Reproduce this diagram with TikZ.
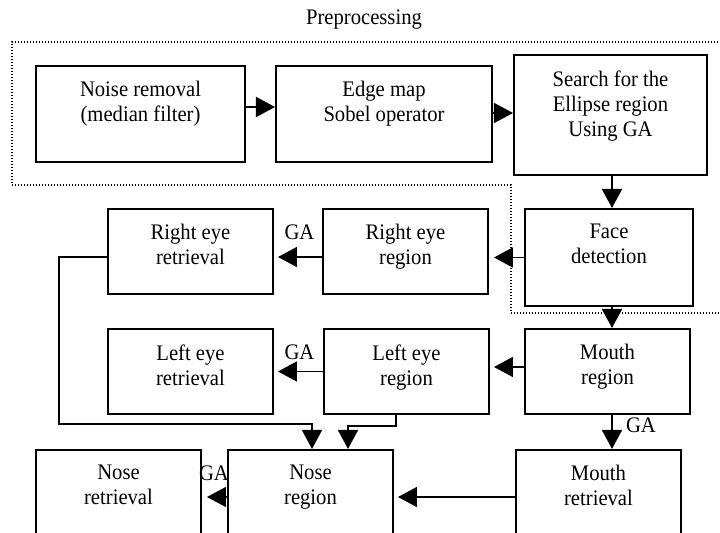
\documentclass[tikz,border=0pt]{standalone}
\usepackage{fontspec}
\setmainfont{Liberation Serif}[FakeStretch=0.93]
\usetikzlibrary{positioning, arrows.meta}

\begin{document}
\begin{tikzpicture}[
    x=0.5pt, y=-0.5pt,
    font=\fontsize{11.1}{12.5}\selectfont,
    box/.style={
        draw,
        line width=1pt,
        minimum width=82.5pt,
        minimum height=42.5pt,
        inner sep=0pt
    },
    txt/.style={
        anchor=north,
        yshift=-8pt,
        align=center,
        inner sep=0pt
    },
    ga/.style={inner sep=0pt},
    arrow/.style={
        -{Triangle[length=9.5pt, width=10pt]},
        line width=0.8pt
    },
    dots/.style={
        line width=0.6pt,
        dash pattern=on 0.5pt off 1pt
    }
]
\clip (0,0) rectangle (720,533);

% Preprocessing frame
\node (pre) at (364,20) [ga] {Preprocessing};
\draw [dots] (730,42) -- (12,42) -- (12,185) -- (511,185) -- (511,313) -- (730,313);

% Top row
\node (noise)  at (140.5,114) [box, minimum width=104.5pt, minimum height=48pt,
    label={[txt]north:{Noise removal\\(median filter)}}] {};
\node (edge)   at (384,114)   [box, minimum width=108pt, minimum height=48pt,
    label={[txt]north:{Edge map\\Sobel operator}}] {};
\node (search) at (610.5,115) [box, minimum width=96.5pt, minimum height=60pt,
    label={[txt]north:{Search for the\\Ellipse region\\Using GA}}] {};

% Second row
\node (face) at (609,257.5)  [box, minimum width=84pt, minimum height=48.5pt,
    label={[txt]north:{Face\\detection}}] {};
\node (rer)  at (405.5,251.5) [box, label={[txt]north:{Right eye\\region}}] {};
\node (rrt)  at (190.5,251.5) [box, label={[txt]north:{Right eye\\retrieval}}] {};

% Third row
\node (mouth) at (607.5,371.5) [box, label={[txt]north:{Mouth\\region}}] {};
\node (ler)   at (406.5,371.5) [box, label={[txt]north:{Left eye\\region}}] {};
\node (lrt)   at (190.5,371.5) [box, label={[txt]north:{Left eye\\retrieval}}] {};

% Bottom row (cut by the page)
\node (mret) at (598.5,510) [box, minimum height=60pt, label={[txt]north:{Mouth\\retrieval}}] {};
\node (nose) at (310.5,510) [box, minimum height=60pt, label={[txt]north:{Nose\\region}}] {};
\node (nret) at (118.5,510) [box, minimum height=60pt, label={[txt]north:{Nose\\retrieval}}] {};

% GA marks
\node (ga1) at (299.5,232) [ga] {GA};
\node (ga2) at (299.5,352) [ga] {GA};
\node (ga3) at (641,425)   [ga] {GA};
\node (ga4) at (214,473)   [ga] {GA};

% Arrows: preprocessing chain
\draw [arrow] ([yshift=3.5pt]noise.east) -- ([yshift=3.5pt]noise.east -| edge.west);
\draw [arrow] ([yshift=0.5pt]edge.east) -- ([yshift=0.5pt]edge.east -| search.west);
\draw [arrow] ([xshift=0.75pt]search.south) -- ([xshift=0.75pt]search.south |- face.north);

% Arrows: eyes
\draw [arrow, shorten >=2.5pt] (face.west) -- (face.west -| rer.east);
\draw [arrow, shorten >=2pt] ([yshift=-2.75pt]rer.west) -- ([yshift=-2.75pt]rer.west -| rrt.east);
\draw [arrow] ([xshift=1.5pt]face.south) -- ([xshift=1.5pt]face.south |- mouth.north);
\draw [arrow, shorten >=2pt] ([yshift=2.25pt]mouth.west) -- ([yshift=2.25pt]mouth.west -| ler.east);
\draw [arrow, shorten >=2pt] (ler.west) -- (ler.west -| lrt.east);

% Arrows: into the nose region
\draw [arrow] ([yshift=-2.75pt]rrt.west) -- ++(-24pt,0) |- ([xshift=0.75pt,yshift=12.5pt]nose.north)
    -- ([xshift=0.75pt]nose.north);
\draw [arrow] ([xshift=-5.25pt]ler.south) -- ++(0,-5.5pt) -| ([xshift=18.75pt]nose.north);

% Arrows: mouth and nose
\draw [arrow] ([xshift=2.25pt]mouth.south) -- ([xshift=2.25pt]mouth.south |- mret.north);
\draw [arrow, shorten >=2pt] ([yshift=6.5pt]mret.west) -- ([yshift=6.5pt]mret.west -| nose.east);
\draw [arrow, shorten >=2.5pt] ([yshift=6.5pt]nose.west) -- ([yshift=6.5pt]nose.west -| nret.east);

\end{tikzpicture}
\end{document}
